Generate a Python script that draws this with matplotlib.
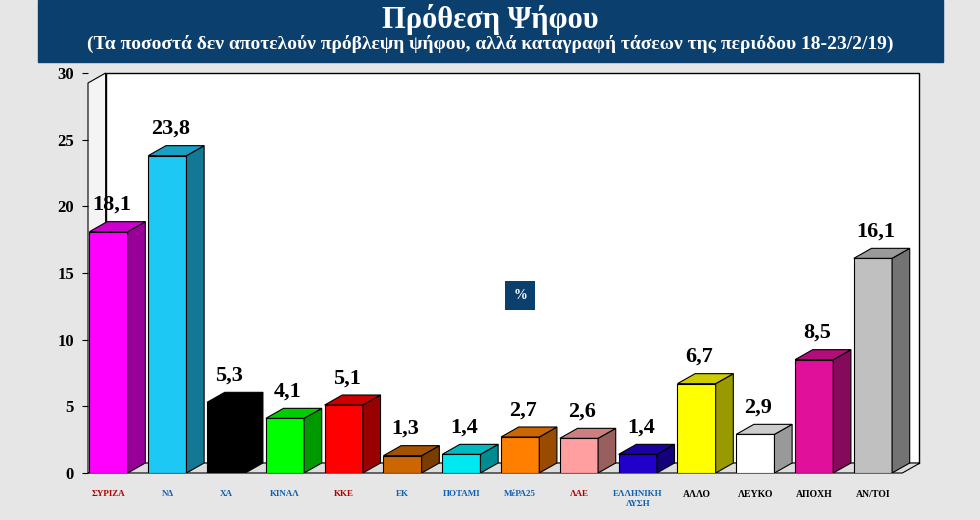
import matplotlib.pyplot as plt
from matplotlib.patches import Polygon, Rectangle
import matplotlib.colors as mcolors
import numpy as np

labels = ['ΣΥΡΙΖΑ', 'ΝΔ', 'ΧΑ', 'ΚΙΝΑΛ', 'ΚΚΕ', 'ΕΚ', 'ΠΟΤΑΜΙ', 'ΜέΡΑ25', 'ΛΑΕ', 'ΕΛΛΗΝΙΚΗ\nΛΥΣΗ',
          'ΑΛΛΟ', 'ΛΕΥΚΟ', 'ΑΠΟΧΗ', 'ΑΝ/ΤΟΙ']
values = [18.1, 23.8, 5.3, 4.1, 5.1, 1.3, 1.4, 2.7, 2.6, 1.4, 6.7, 2.9, 8.5, 16.1]
colors = ['#FF00FF', '#1EC8F5', '#000000', '#00FF00', '#FF0000', '#CC6600', '#00E8F0',
          '#FF7F00', '#FF9F9F', '#2200CC', '#FFFF00', '#FFFFFF', '#E0109A', '#C0C0C0']

serif = 'Liberation Serif'
fig = plt.figure(figsize=(9.8, 5.2), dpi=100)
fig.patch.set_facecolor('#E6E6E6')

# title banner
fig.patches.append(Rectangle((38 / 980, 458 / 520), 905 / 980, 62 / 520,
                             transform=fig.transFigure, color='#0B3F6E', zorder=0))
fig.text(0.5, 0.962, 'Πρόθεση Ψήφου', ha='center', va='center', color='white',
         fontsize=22, fontweight='bold', family=serif)
fig.text(0.5, 0.916, '(Τα ποσοστά δεν αποτελούν πρόβλεψη ψήφου, αλλά καταγραφή τάσεων της περιόδου 18-23/2/19)',
         ha='center', va='center', color='white', fontsize=14, fontweight='bold', family=serif)

ax = fig.add_axes([88 / 980, 47 / 520, 832 / 980, 400 / 520])
ax.set_xlim(-0.35, 13.8)
ax.set_ylim(0, 30)
ax.set_facecolor('none')
for s in ax.spines.values():
    s.set_visible(False)

dx, dy = 0.3, 0.75
w = 0.65
# back wall, floor and side wall
ax.add_patch(Rectangle((-0.35 + dx, dy), 13.8 + 0.35 - dx - 0.02, 30 - dy, facecolor='white',
                       edgecolor='black', lw=1, zorder=0.5, clip_on=False))
ax.add_patch(Polygon([(-0.35, 0), (13.8 - dx, 0), (13.8, dy), (-0.35 + dx, dy)], closed=True,
                     facecolor='#DDDDDD', edgecolor='black', lw=0.8, zorder=0.6, clip_on=False))
ax.add_patch(Polygon([(-0.35, 0), (-0.35 + dx, dy), (-0.35 + dx, 30), (-0.35, 30 - dy)], closed=True,
                     facecolor='#F4F4F4', edgecolor='black', lw=0.8, zorder=0.6, clip_on=False))

bars = ax.bar(range(len(values)), values, width=w, color=colors, edgecolor='black', lw=0.8, zorder=2)
for b, c, v in zip(bars, colors, values):
    x0, x1, h = b.get_x(), b.get_x() + b.get_width(), b.get_height()
    rgb = np.array(mcolors.to_rgb(c))
    ax.add_patch(Polygon([(x1, 0), (x1 + dx, dy), (x1 + dx, h + dy), (x1, h)], closed=True,
                         facecolor=rgb * 0.6, edgecolor='black', lw=0.8, zorder=2))
    ax.add_patch(Polygon([(x0, h), (x1, h), (x1 + dx, h + dy), (x0 + dx, h + dy)], closed=True,
                         facecolor=rgb * 0.8, edgecolor='black', lw=0.8, zorder=2))
    ax.text((x0 + x1) / 2 + 0.05, h + dy + 0.5, f'{v:.1f}'.replace('.', ','), ha='center', va='bottom',
            fontsize=16, fontweight='bold', family=serif)

ax.set_yticks(range(0, 31, 5))
ax.set_yticklabels([str(t) for t in range(0, 31, 5)], fontsize=12, fontweight='bold', family=serif)
ax.set_xticks(range(len(values)))
ax.set_xticklabels([])
ax.tick_params(axis='x', length=0)
ax.tick_params(axis='y', length=4, pad=6)
for i, lab in enumerate(labels):
    ax.text(i, -1.3, lab, ha='center', va='top', fontsize=6.5 if i < 10 else 7,
            fontweight='bold', family=serif, clip_on=False,
            color='#B00000' if i in (0, 4, 8) else ('#1060B0' if i < 10 else 'black'))

ax.text(7.0, 13.3, '%', ha='center', va='center', color='white', fontsize=10, fontweight='bold',
        family=serif, bbox=dict(boxstyle='square,pad=0.6', facecolor='#0B3F6E', edgecolor='none'))

fig.savefig('out.png', dpi=100)
